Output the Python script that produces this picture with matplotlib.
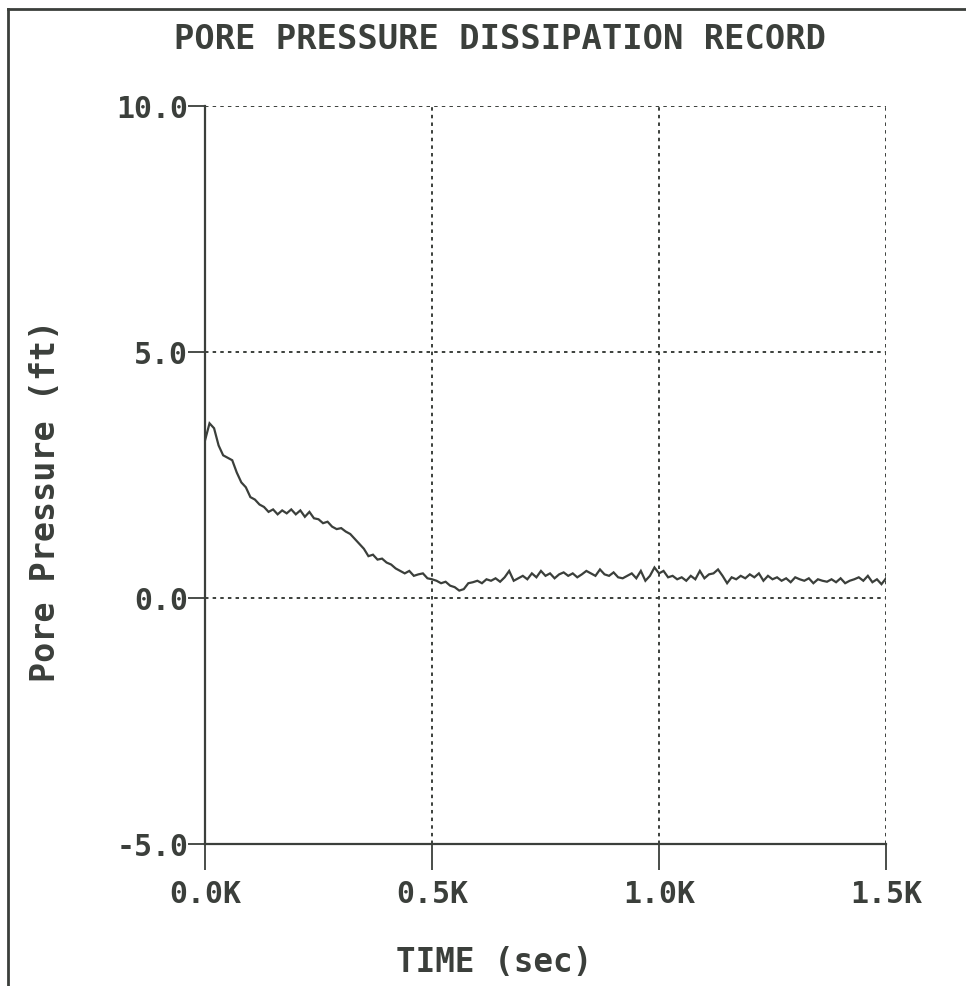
import numpy as np
import matplotlib.pyplot as plt
from matplotlib.lines import Line2D

FIGSIZE = (9.66, 9.87)
DPI = 100
INK = '#3b3f3b'
FONT = 'DejaVu Sans Mono'

# pore pressure (ft) sampled every 10 s
time_s = np.arange(0, 1501, 10)
pressure_ft = [
    3.20, 3.55, 3.45, 3.10, 2.90, 2.85, 2.80, 2.55, 2.35, 2.25,
    2.05, 2.00, 1.90, 1.85, 1.75, 1.80, 1.70, 1.78, 1.72, 1.80,
    1.70, 1.78, 1.65, 1.75, 1.62, 1.60, 1.52, 1.55, 1.45, 1.40,
    1.42, 1.35, 1.30, 1.20, 1.10, 1.00, 0.85, 0.88, 0.78, 0.80,
    0.72, 0.68, 0.60, 0.55, 0.50, 0.55, 0.45, 0.48, 0.50, 0.40,
    0.38, 0.35, 0.30, 0.33, 0.25, 0.22, 0.15, 0.18, 0.30, 0.32,
    0.35, 0.30, 0.38, 0.35, 0.40, 0.33, 0.42, 0.55, 0.35, 0.40,
    0.45, 0.38, 0.50, 0.42, 0.55, 0.45, 0.50, 0.40, 0.48, 0.52,
    0.45, 0.50, 0.42, 0.48, 0.55, 0.50, 0.45, 0.58, 0.48, 0.45,
    0.52, 0.42, 0.40, 0.45, 0.50, 0.40, 0.55, 0.35, 0.45, 0.62,
    0.50, 0.55, 0.42, 0.45, 0.38, 0.42, 0.35, 0.45, 0.38, 0.55,
    0.40, 0.48, 0.50, 0.58, 0.45, 0.30, 0.42, 0.38, 0.45, 0.40,
    0.48, 0.42, 0.50, 0.35, 0.45, 0.38, 0.42, 0.35, 0.40, 0.32,
    0.42, 0.38, 0.35, 0.40, 0.30, 0.38, 0.35, 0.33, 0.38, 0.32,
    0.40, 0.30, 0.35, 0.38, 0.42, 0.35, 0.45, 0.32, 0.38, 0.28,
    0.40,
]

x_ticks = [0, 500, 1000, 1500]
x_labels = ['0.0K', '0.5K', '1.0K', '1.5K']
y_ticks = [-5.0, 0.0, 5.0, 10.0]
y_labels = ['-5.0', '0.0', '5.0', '10.0']

plt.rcParams['lines.scale_dashes'] = False

fig = plt.figure(figsize=FIGSIZE, dpi=DPI)
ax = fig.add_axes([0.2122, 0.1439, 0.705, 0.7477])

ax.plot(time_s, pressure_ft, color=INK, lw=1.6, solid_joinstyle='miter')

# dotted grid, including the top and right edges
dots = (0, (2.5, 3))
for y in y_ticks[1:]:
    ax.axhline(y, color=INK, lw=1.4, ls=dots, zorder=0)
for x in x_ticks[1:]:
    ax.axvline(x, color=INK, lw=1.4, ls=dots, zorder=0)

ax.set_xlim(0, 1500)
ax.set_ylim(-5, 10)
for s in ('top', 'right'):
    ax.spines[s].set_visible(False)
for s in ('left', 'bottom'):
    ax.spines[s].set_color(INK)
    ax.spines[s].set_linewidth(1.6)

ax.set_xticks(x_ticks, x_labels)
ax.set_yticks(y_ticks, y_labels)
ax.tick_params(axis='x', direction='out', length=19, width=1.3, color=INK, pad=6)
ax.tick_params(axis='y', direction='out', length=12, width=1.3, color=INK, pad=0)
for lab in ax.get_xticklabels() + ax.get_yticklabels():
    lab.set_fontfamily(FONT)
    lab.set_fontweight('bold')
    lab.set_fontsize(21.5)
    lab.set_color(INK)

fig.text(0.518, 0.960, 'PORE PRESSURE DISSIPATION RECORD', ha='center', va='center',
         family=FONT, weight='bold', size=24.3, color=INK)
fig.text(0.512, 0.025, 'TIME (sec)', ha='center', va='center',
         family=FONT, weight='bold', size=23.5, color=INK)
fig.text(0.047, 0.493, 'Pore Pressure (ft)', ha='center', va='center', rotation=90,
         family=FONT, weight='bold', size=24, color=INK)

# page frame
fig.add_artist(Line2D([0.008, 0.008], [0.0, 0.99], transform=fig.transFigure, color=INK, lw=2))
fig.add_artist(Line2D([0.008, 1.0], [0.99, 0.99], transform=fig.transFigure, color=INK, lw=2))

fig.savefig('out.png', dpi=DPI)
